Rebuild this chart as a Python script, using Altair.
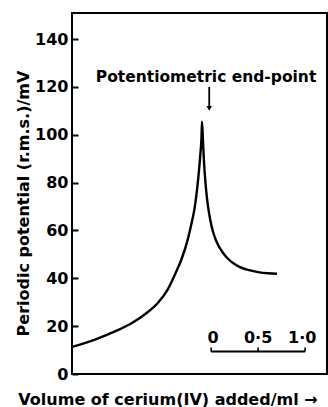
import altair as alt
import pandas as pd

# Curve data (volume of Ce(IV) added in ml, periodic potential in mV)
vol = [0.000, 0.245, 0.457, 0.638, 0.787, 0.915, 1.021, 1.106, 1.170, 1.223, 1.266, 1.303,
       1.330, 1.351, 1.367, 1.378, 1.383,
       1.394, 1.404, 1.420, 1.436, 1.457, 1.484, 1.516, 1.553, 1.596, 1.649, 1.713, 1.787,
       1.872, 1.979, 2.085, 2.181]
pot = [11.3, 14.4, 17.8, 21.3, 25.3, 29.8, 35.5, 42.5, 48.5, 55.0, 62.0, 69.0,
       77.0, 85.0, 92.5, 99.0, 105.5,
       97.0, 89.0, 80.0, 73.5, 67.5, 62.0, 57.5, 54.0, 51.2, 48.6, 46.4, 44.7,
       43.5, 42.6, 42.1, 41.9]

y_ticks = [0, 20, 40, 60, 80, 100, 120, 140]

# Scale bar (1.0 ml) drawn inside the plot
bar_start = 1.48
bar_marks = [0.0, 0.5, 1.0]
bar_labels = ["0", "0·5", "1·0"]
bar_label_shift = [0.02, 0.0, -0.03]
bar_y = 9.4
bar_tick_top = 11.1
bar_label_y = 12.9

annot_text = "Potentiometric end-point"
annot_x = 1.426
annot_y = 122.0
arrow_x = 1.46
arrow_top = 120.0
arrow_bottom = 111.0

FONT = "DejaVu Sans"
FW = "bold"
XDOM = [0, 2.713]
YDOM = [0, 150.9]

curve_df = pd.DataFrame({"v": vol, "p": pot, "o": range(len(vol))})
xs = alt.Scale(domain=XDOM, nice=False, zero=False)
ys = alt.Scale(domain=YDOM, nice=False)

curve = alt.Chart(curve_df).mark_line(color="black", strokeWidth=2.4, interpolate="monotone").encode(
    x=alt.X("v:Q", scale=xs, axis=alt.Axis(
        title="Volume of cerium(IV) added/ml →", labels=False, ticks=False, domain=False,
        grid=False, titleFont=FONT, titleFontSize=16, titleFontWeight=FW, titleColor="black",
        titleX=95.5, titleY=30, titleBaseline="alphabetic", titleAnchor="middle", titleAlign="center")),
    y=alt.Y("p:Q", scale=ys, axis=alt.Axis(
        title="Periodic potential (r.m.s.)/mV", values=y_ticks, format="d", offset=-6, tickSize=6,
        tickWidth=2, tickColor="black", domain=False, grid=False, labelPadding=4,
        labelFont=FONT, labelFontSize=16, labelFontWeight=FW, labelColor="black",
        titleFont=FONT, titleFontSize=16, titleFontWeight=FW, titleColor="black",
        titleX=-49.5, titleY=190, titleBaseline="alphabetic", titleAlign="center", titleAngle=-90)),
    order="o:Q",
)

bar_df = pd.DataFrame({"x": [bar_start], "x2": [bar_start + 1.0], "y": [bar_y]})
bar = alt.Chart(bar_df).mark_rule(color="black", strokeWidth=2).encode(
    x=alt.X("x:Q", scale=xs), x2="x2:Q", y=alt.Y("y:Q", scale=ys))

tick_df = pd.DataFrame({"x": [bar_start + m for m in bar_marks], "y": [bar_y] * 3,
                        "y2": [bar_tick_top] * 3, "lab": bar_labels,
                        "lx": [bar_start + m + s for m, s in zip(bar_marks, bar_label_shift)],
                        "ly": [bar_label_y] * 3})
bar_ticks = alt.Chart(tick_df).mark_rule(color="black", strokeWidth=1.6).encode(
    x=alt.X("x:Q", scale=xs), y=alt.Y("y:Q", scale=ys), y2="y2:Q")
bar_text = alt.Chart(tick_df).mark_text(font=FONT, fontSize=16, fontWeight=FW, baseline="alphabetic",
                                        align="center", color="black").encode(
    x=alt.X("lx:Q", scale=xs), y=alt.Y("ly:Q", scale=ys), text="lab:N")

annot_df = pd.DataFrame({"x": [annot_x], "y": [annot_y], "t": [annot_text]})
annot = alt.Chart(annot_df).mark_text(font=FONT, fontSize=15.5, fontWeight=FW, baseline="alphabetic",
                                      align="center", color="black").encode(
    x=alt.X("x:Q", scale=xs), y=alt.Y("y:Q", scale=ys), text="t:N")

arrow_df = pd.DataFrame({"x": [arrow_x], "y": [arrow_top], "y2": [arrow_bottom + 1]})
arrow = alt.Chart(arrow_df).mark_rule(color="black", strokeWidth=1.8).encode(
    x=alt.X("x:Q", scale=xs), y=alt.Y("y:Q", scale=ys), y2="y2:Q")
head_df = pd.DataFrame({"x": [arrow_x], "y": [arrow_bottom]})
head = alt.Chart(head_df).mark_point(shape="triangle-down", filled=True, color="black",
                                     size=30, opacity=1).encode(
    x=alt.X("x:Q", scale=xs), y=alt.Y("y:Q", scale=ys))

chart = alt.layer(curve, bar, bar_ticks, bar_text, annot, arrow, head).properties(
    width=255, height=361,
    autosize=alt.AutoSizeParams(type="none"),
    padding={"left": 72, "top": 13, "right": 1, "bottom": 33},
    background="white",
).configure_view(stroke="black", strokeWidth=2)

chart.save("out.html", embed_options={"renderer": "svg", "actions": False})
